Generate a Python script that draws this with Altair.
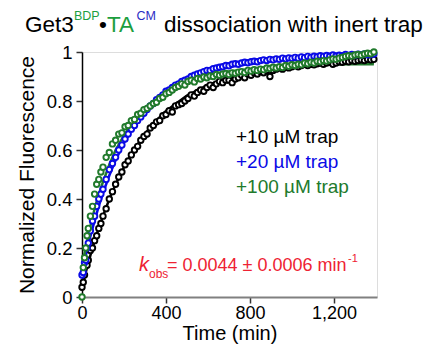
import altair as alt
import pandas as pd

# ---- data ----
time_min = [0, 6, 12, 18, 24, 30, 40, 50, 60, 70, 80, 90, 100,
            115, 130, 145, 160, 175, 190, 205, 220, 235, 250, 265, 280, 295, 310, 325, 340, 355,
            370, 385, 400, 415, 430, 445, 460, 475, 490, 505, 520, 535, 550, 565, 580, 595,
            610, 625, 640, 655, 670, 685, 700, 715, 730, 745, 760, 775, 790, 805, 820, 835,
            850, 865, 880, 895, 910, 925, 940, 955, 970, 985, 1000, 1015, 1030, 1045, 1060,
            1075, 1090, 1105, 1120, 1135, 1150, 1165, 1180, 1195, 1210, 1225, 1240, 1255,
            1270, 1285, 1300, 1315, 1330, 1345, 1360, 1375, 1390]

trap10 = [0.04, 0.06, 0.09, 0.13, 0.13, 0.15, 0.19, 0.20, 0.23, 0.25, 0.28, 0.30, 0.33,
          0.36, 0.40, 0.43, 0.46, 0.49, 0.51, 0.54, 0.555, 0.58, 0.60, 0.615, 0.64, 0.655, 0.665,
          0.69, 0.70, 0.715, 0.72, 0.74, 0.745, 0.76, 0.755, 0.78, 0.785, 0.79, 0.80, 0.81, 0.825,
          0.82, 0.835, 0.845, 0.84, 0.855, 0.865, 0.855, 0.87, 0.88, 0.875, 0.885, 0.885, 0.875,
          0.89, 0.895, 0.905, 0.895, 0.91, 0.905, 0.915, 0.91, 0.92, 0.915, 0.925, 0.90, 0.925,
          0.93, 0.935, 0.93, 0.94, 0.935, 0.94, 0.945, 0.94, 0.945, 0.95, 0.945, 0.95, 0.948,
          0.952, 0.955, 0.95, 0.955, 0.958, 0.95, 0.955, 0.96, 0.958, 0.962, 0.96, 0.965, 0.962,
          0.965, 0.968, 0.965, 0.97, 0.968, 0.97]

trap20 = [0.09, 0.10, 0.14, 0.15, 0.20, 0.22, 0.27, 0.31, 0.33, 0.37, 0.40, 0.42, 0.44,
          0.48, 0.52, 0.545, 0.57, 0.60, 0.62, 0.645, 0.665, 0.685, 0.70, 0.72, 0.735, 0.75,
          0.765, 0.78, 0.79, 0.805, 0.815, 0.825, 0.84, 0.845, 0.855, 0.865, 0.87, 0.88, 0.885,
          0.89, 0.90, 0.905, 0.91, 0.915, 0.92, 0.925, 0.925, 0.932, 0.935, 0.938, 0.94, 0.945,
          0.944, 0.95, 0.952, 0.95, 0.955, 0.958, 0.956, 0.96, 0.962, 0.96, 0.965, 0.968, 0.965,
          0.97, 0.968, 0.972, 0.97, 0.975, 0.972, 0.976, 0.974, 0.978, 0.975, 0.98, 0.977, 0.982,
          0.978, 0.983, 0.98, 0.985, 0.982, 0.986, 0.983, 0.988, 0.984, 0.987, 0.985, 0.99,
          0.986, 0.99, 0.987, 0.991, 0.988, 0.992, 0.989, 0.99, 0.992]

trap100 = [0.00, 0.12, 0.16, 0.20, 0.25, 0.28, 0.33, 0.37, 0.42, 0.46, 0.48, 0.51, 0.53,
           0.57, 0.59, 0.625, 0.64, 0.665, 0.67, 0.695, 0.70, 0.72, 0.725, 0.745, 0.75, 0.765,
           0.77, 0.78, 0.79, 0.795, 0.81, 0.815, 0.83, 0.835, 0.845, 0.855, 0.86, 0.87, 0.865,
           0.88, 0.885, 0.878, 0.892, 0.89, 0.898, 0.895, 0.902, 0.90, 0.908, 0.905, 0.91, 0.912,
           0.908, 0.915, 0.913, 0.918, 0.92, 0.916, 0.925, 0.922, 0.928, 0.925, 0.93, 0.928,
           0.935, 0.933, 0.938, 0.935, 0.94, 0.937, 0.945, 0.942, 0.948, 0.945, 0.95, 0.948,
           0.955, 0.952, 0.958, 0.955, 0.962, 0.96, 0.965, 0.963, 0.968, 0.972, 0.97, 0.975,
           0.978, 0.982, 0.985, 0.983, 0.988, 0.99, 0.987, 0.992, 0.995, 0.993, 1.0]

fit_time = [0, 10, 20, 40, 60, 80, 100, 130, 160, 200, 250, 300, 350, 400, 500, 600,
            700, 800, 900, 1000, 1100, 1200, 1300, 1390]
fit10 = [0.040, 0.074, 0.107, 0.170, 0.228, 0.281, 0.331, 0.399, 0.459, 0.530, 0.604, 0.666,
         0.717, 0.759, 0.822, 0.866, 0.896, 0.916, 0.930, 0.939, 0.946, 0.950, 0.953, 0.955]
fit20 = [0.100, 0.140, 0.177, 0.248, 0.312, 0.371, 0.424, 0.496, 0.558, 0.629, 0.701, 0.758,
         0.804, 0.840, 0.892, 0.924, 0.945, 0.958, 0.966, 0.971, 0.974, 0.976, 0.978, 0.979]
fit100 = [0.120, 0.170, 0.210, 0.290, 0.360, 0.420, 0.470, 0.540, 0.600, 0.660, 0.720, 0.765,
          0.800, 0.830, 0.875, 0.900, 0.920, 0.930, 0.940, 0.945, 0.948, 0.950, 0.950, 0.950]

series_names = ["+10 µM trap", "+20 µM trap", "+100 µM trap"]
series_colors = ["#000000", "#0a0ae6", "#217a2c"]

x_ticks = [0, 400, 800, 1200]
y_ticks = [0, 0.2, 0.4, 0.6, 0.8, 1]

# ---- tables ----
pts_rows = []
for name, vals in zip(series_names, [trap10, trap20, trap100]):
    for t, v in zip(time_min, vals):
        pts_rows.append({"time": t, "value": v, "series": name})
pts = pd.DataFrame(pts_rows)

fit_rows = []
for name, vals in zip(series_names, [fit10, fit20, fit100]):
    for t, v in zip(fit_time, vals):
        fit_rows.append({"time": t, "value": v, "series": name})
fits = pd.DataFrame(fit_rows)

FONT = "Liberation Sans"

xscale = alt.Scale(domain=[0, 1405], nice=False, zero=False)
yscale = alt.Scale(domain=[0, 1], nice=False)
cscale = alt.Scale(domain=series_names, range=series_colors)

xaxis = alt.Axis(title="Time (min)", values=x_ticks, format=",.0f", grid=False,
                 tickSize=6, labelPadding=1, titlePadding=1, labelFlush=False,
                 labelFontSize=18, titleFontSize=20, labelFont=FONT, titleFont=FONT,
                 titleFontWeight="normal", labelColor="#000", titleColor="#000",
                 domainColor="#808080", domainWidth=2, tickColor="#333", tickWidth=1.5)
yaxis = alt.Axis(title="Normalized Fluorescence", values=y_ticks, format="~g", grid=False,
                 tickSize=6, labelPadding=4, titlePadding=9, labelFlush=False,
                 labelFontSize=18.5, titleFontSize=21, labelFont=FONT, titleFont=FONT,
                 titleFontWeight="normal", labelColor="#000", titleColor="#000",
                 domainColor="#000", domainWidth=1.5, tickColor="#333", tickWidth=1.5)

lines = alt.Chart(fits).mark_line(strokeWidth=2.5).encode(
    x=alt.X("time:Q", scale=xscale, axis=xaxis),
    y=alt.Y("value:Q", scale=yscale, axis=yaxis),
    color=alt.Color("series:N", scale=cscale, legend=None),
    detail="series:N",
)

points = alt.Chart(pts).mark_point(shape="circle", size=30, strokeWidth=1.9,
                                   fill="white", fillOpacity=1, opacity=1).encode(
    x=alt.X("time:Q", scale=xscale, axis=xaxis),
    y=alt.Y("value:Q", scale=yscale, axis=yaxis),
    color=alt.Color("series:N", scale=cscale, legend=None),
)


def label(text, x, y, size, color, style="normal", align="left"):
    return alt.Chart(pd.DataFrame({"a": [0]})).mark_text(
        text=text, font=FONT, fontSize=size, color=color, fontStyle=style,
        align=align, baseline="alphabetic").encode(x=alt.value(x), y=alt.value(y))


texts = [
    # title (multi-coloured)
    label("Get3", -57, -20, 22.5, "#000000"),
    label("BDP", -8, -32, 12.5, "#1c9e3e"),
    label("•", 17, -20, 22.5, "#000000"),
    label("TA", 25, -20, 22.5, "#1c9e3e"),
    label("CM", 54.5, -32, 12.5, "#2b2bc4"),
    label("dissociation with inert trap", 82, -20, 22.5, "#000000"),
    # legend texts
    label(series_names[0], 154, 91, 19, series_colors[0]),
    label(series_names[1], 154, 116, 19, series_colors[1]),
    label(series_names[2], 154, 141, 19, series_colors[2]),
    # rate constant
    label("k", 57, 219, 20, "#ee2233", style="italic"),
    label("obs", 67, 226, 12, "#ee2233"),
    label("= 0.0044 ± 0.0006 min", 85, 219, 18, "#ee2233"),
    label("-1", 266, 210, 11, "#ee2233"),
]

chart = alt.layer(lines, points, *texts).properties(
    width=295, height=245,
    autosize=alt.AutoSizeParams(type="none"),
    padding={"left": 74, "top": 44, "right": 50, "bottom": 47},
).configure_view(stroke="#333", strokeWidth=1.5).configure(background="white")

chart.save("out.html", embed_options={"renderer": "svg", "actions": False})
